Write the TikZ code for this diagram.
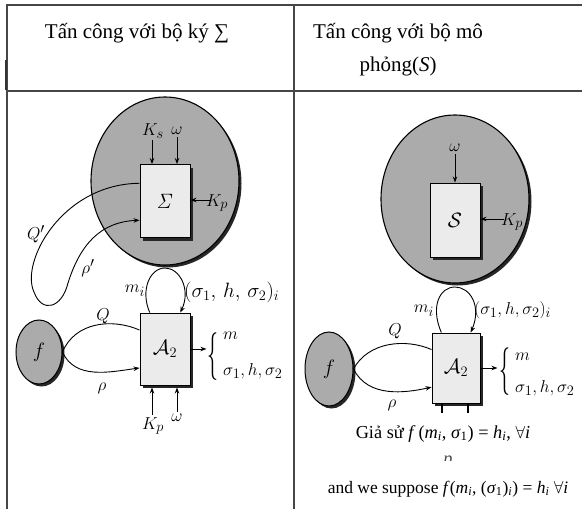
\documentclass[tikz,border=0pt]{standalone}
\usepackage[no-math]{fontspec}
\usepackage{graphicx}
\setmainfont{Liberation Serif}
\usetikzlibrary{shapes.geometric,shadows,calc,arrows.meta}
\newcommand{\tallbrace}{\scalebox{1.05}[2.3]{$\{$}}
\begin{document}
\begin{tikzpicture}[x=1pt,y=-1pt,
  lbl/.style={inner sep=0pt, font=\fontsize{19}{22}\selectfont},
  hdr/.style={inner sep=0pt, font=\fontsize{21}{25}\selectfont},
  txt/.style={inner sep=0pt, font=\fontsize{18.3}{22}\selectfont},
  txtb/.style={inner sep=0pt, font=\fontsize{17.5}{21}\selectfont},
  bigcirc/.style={ellipse, draw, line width=1.1pt, fill=black!33, inner sep=0pt,
    minimum width=148pt, minimum height=168pt,
    drop shadow={shadow xshift=2.5pt, shadow yshift=-2.5pt, fill=black!85, opacity=1}},
  blockbox/.style={rectangle, draw, line width=0.9pt, fill=black!8, inner sep=0pt,
    minimum width=50pt, minimum height=72pt, font=\fontsize{20}{24}\selectfont,
    drop shadow={shadow xshift=3pt, shadow yshift=-3pt, fill=black!85, opacity=1}},
  fnode/.style={ellipse, draw, line width=1pt, fill=black!33, inner sep=0pt,
    minimum width=46pt, minimum height=64pt, font=\fontsize{20}{24}\selectfont,
    drop shadow={shadow xshift=2.5pt, shadow yshift=-2.5pt, fill=black!85, opacity=1}},
  bracenode/.style={inner sep=0pt, font=\fontsize{21}{24}\selectfont},
  conn/.style={line width=0.9pt},
  arr/.style={conn, -{Stealth[length=6pt,width=4.5pt]}},
  rule/.style={line width=1.6pt, black!72}]
\useasboundingbox (0,0) rectangle (582,509);

% table rules
\draw[rule] (6,5) -- (582,5);
\draw[rule] (6,91) -- (582,91);
\draw[rule] (7,4.5) -- (7,509);
\draw[rule] (294,4.5) -- (294,509);
\draw[line width=2.4pt, black!80] (6,60) -- (6,90);

% headers
\node[hdr, anchor=base] (h1) at (137,38) {Tấn công với bộ ký ∑};
\node[hdr, anchor=base] (h2) at (398,38) {Tấn công với bộ mô};
\node[hdr, anchor=base] (h3) at (398,71) {phỏng(\textit{S})};

% ---------------- left panel ----------------
\node[bigcirc] (C1) at (165,181) {};
\node[blockbox, minimum height=73pt] (Sig) at (165,201) {$\mathit{\Sigma}$};
\node[lbl] (Ks) at (153,131) {$K_s$};
\node[lbl] (w1) at (177,131) {$\omega$};
\draw[arr, shorten <=2pt] (Ks.south -| 152,0) -- (Sig.north -| 152,0);
\draw[arr, shorten <=2pt] (w1.south) -- (w1.south |- Sig.north);
\node[lbl] (Kp1) at (217,203) {$K_p$};
\draw[arr] ($(Kp1.west)+(4,-3)$) -- ($(Kp1.west -| Sig.east)+(0,-3)$);

\draw[arr] ($(Sig.north west)!0.26!(Sig.south west)$)
  .. controls (62,184) and (20,262) .. (34,292)
  .. controls (42,314) and (62,308) .. (68,283)
  .. controls (80,245) and (100,222) .. ($(Sig.north west)!0.76!(Sig.south west)$);
\node[lbl] (Qp) at (36,234) {$Q'$};
\node[lbl] (rp) at (88,268) {$\rho'$};

\node[blockbox] (A1) at (165,349) {$\mathcal{A}_2$};
\draw[arr] ($(A1.north west)!0.2!(A1.north east)$)
  .. controls (140,290) and (150,268) .. (165,268)
  .. controls (180,268) and (191,290) .. ($(A1.north west)!0.8!(A1.north east)$);
\node[lbl] (mi1) at (135,291) {$m_i$};
\node[lbl, anchor=west, font=\fontsize{21.5}{24}\selectfont] (sg1) at (184,292) {$(\sigma_1,\,h,\,\sigma_2)_i$};

\node[fnode] (f1) at (39,352) {$f$};
\draw[conn] (f1.east) .. controls (75,322) and (112,318) .. ($(A1.north west)!0.24!(A1.south west)$);
\draw[arr] (f1.east) .. controls (75,380) and (110,372) .. ($(A1.north west)!0.76!(A1.south west)$);
\node[lbl] (Q1) at (103,316) {$Q$};
\node[lbl] (r1) at (102,388) {$\rho$};

\draw[arr] (A1.east) -- ++(16,0) coordinate (o1);
\node[bracenode, anchor=west] (br1) at (207,357) {\tallbrace};
\node[lbl, anchor=west] (m1) at (223,336) {$m$};
\node[lbl, anchor=west] (s1) at (223,371) {$\sigma_1,h,\sigma_2$};

\node[lbl] (Kp2) at (153,426) {$K_p$};
\node[lbl] (w2) at (177,418) {$\omega$};
\draw[arr, shorten <=2pt] (Kp2.north -| 152,0) -- ($(A1.south -| 152,0)+(0,2)$);
\draw[arr, shorten <=2pt] (w2.north) -- ($(w2.north |- A1.south)+(0,2)$);

% ---------------- right panel ----------------
\node[bigcirc] (C2) at (455,199) {};
\node[blockbox, minimum height=74pt] (S) at (455,220) {$\mathcal{S}$};
\node[lbl] (w3) at (455,148) {$\omega$};
\draw[arr, shorten <=2pt] (w3.south) -- (w3.south |- S.north);
\node[lbl] (Kp3) at (512,222) {$K_p$};
\draw[arr] ($(Kp3.west)+(3,-3)$) -- ($(Kp3.west -| S.east)+(0,-3)$);

\node[blockbox, minimum width=48pt, minimum height=70pt] (A2) at (456,368) {$\mathcal{A}_2$};
\draw[arr] ($(A2.north west)!0.2!(A2.north east)$)
  .. controls (430,306) and (440,287) .. (455,287)
  .. controls (470,287) and (482,306) .. ($(A2.north west)!0.8!(A2.north east)$);
\node[lbl] (mi2) at (424,311) {$m_i$};
\node[lbl, anchor=west] (sg2) at (474,310) {$(\sigma_1,h,\sigma_2)_i$};

\node[fnode, minimum width=48pt, minimum height=74pt] (f2) at (329,369) {$f$};
\draw[conn] (f2.east) .. controls (368,342) and (405,338) .. ($(A2.north west)!0.24!(A2.south west)$);
\draw[arr] (f2.east) .. controls (368,398) and (405,393) .. ($(A2.north west)!0.77!(A2.south west)$);
\node[lbl] (Q2) at (395,331) {$Q$};
\node[lbl] (r2) at (392,405) {$\rho$};

\draw[arr] (A2.east) -- ++(17,0) coordinate (o2);
\node[bracenode, anchor=west] (br2) at (499,372) {\tallbrace};
\node[lbl, anchor=west] (m2) at (515,357) {$m$};
\node[lbl, anchor=west] (s2) at (515,388) {$\sigma_1,h,\sigma_2$};

\draw[line width=1.6pt] ($(A2.south west)!0.21!(A2.south east)$) -- ++(0,10);
\draw[line width=1.6pt] ($(A2.south west)!0.74!(A2.south east)$) -- ++(0,10);

\node[txt, anchor=base] (g1) at (443,438) {Giả sử \textit{f}\,(\textit{m}\textsubscript{\textit{i}}, \textit{σ}\textsubscript{1}) = \textit{h}\textsubscript{\textit{i}}, $\forall$\textit{i}};
\begin{scope}
  \clip (440,452) rectangle (458,460);
  \node[txt, anchor=base, text=black!70] (frag) at (448,464) {\textit{p}};
\end{scope}
\node[txtb, anchor=base] (g2) at (448,493) {and we suppose \textit{f}(\textit{m}\textsubscript{\textit{i}}, (\textit{σ}\textsubscript{1})\textsubscript{\textit{i}}) = \textit{h}\textsubscript{\textit{i}} $\forall$\textit{i}};
\end{tikzpicture}
\end{document}
